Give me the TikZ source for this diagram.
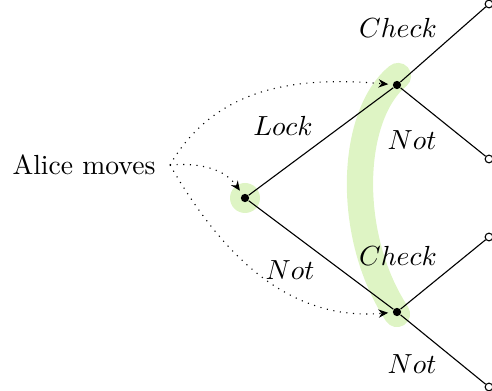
\documentclass[tikz,border=0pt]{standalone}
\usetikzlibrary{arrows.meta}
\definecolor{hl}{RGB}{222,244,196}
\begin{document}
\begin{tikzpicture}[x=0.362pt,y=-0.362pt,
  inner/.style={circle,fill=black,inner sep=0pt,minimum size=3pt},
  leaf/.style={circle,draw=black,fill=white,inner sep=0pt,minimum size=2.8pt,line width=0.4pt},
  lbl/.style={inner sep=0pt},
  move/.style={dotted,-{Stealth[length=3.5pt,width=3pt]},shorten >=1.5pt},
  band/.style={hl,line width=9.5pt,line cap=round}]
\useasboundingbox (0,0) rectangle (492,391);
% highlights
\fill[hl] (245,198) circle (15);
\draw[band] (398,76) .. controls (350,115) and (345,235) .. (397,314);
% nodes
\node[inner] (r) at (245,198) {};
\node[inner] (u) at (397,85) {};
\node[inner] (d) at (397,312) {};
\node[leaf] (u1) at (489,4) {};
\node[leaf] (u2) at (489,159) {};
\node[leaf] (d1) at (489,237) {};
\node[leaf] (d2) at (489,387) {};
\draw (r) -- (u);
\draw (r) -- (d);
\draw (u) -- (u1);
\draw (u) -- (u2);
\draw (d) -- (d1);
\draw (d) -- (d2);
% labels
\node[lbl] (a) at (84,165) {Alice moves};
\node[lbl] (l1) at (398,28) {$Check$};
\node[lbl] (l2) at (283,126) {$Lock$};
\node[lbl] (l3) at (412,140) {$Not$};
\node[lbl] (l4) at (398,256) {$Check$};
\node[lbl] (l5) at (290,270) {$Not$};
\node[lbl] (l6) at (412,364) {$Not$};
% moves
\coordinate (s) at (170,165);
\draw[move] (s) to[out=60,in=175] (u);
\draw[move] (s) to[out=5,in=125] (r);
\draw[move] (s) to[out=-60,in=185] (d);
\end{tikzpicture}
\end{document}
